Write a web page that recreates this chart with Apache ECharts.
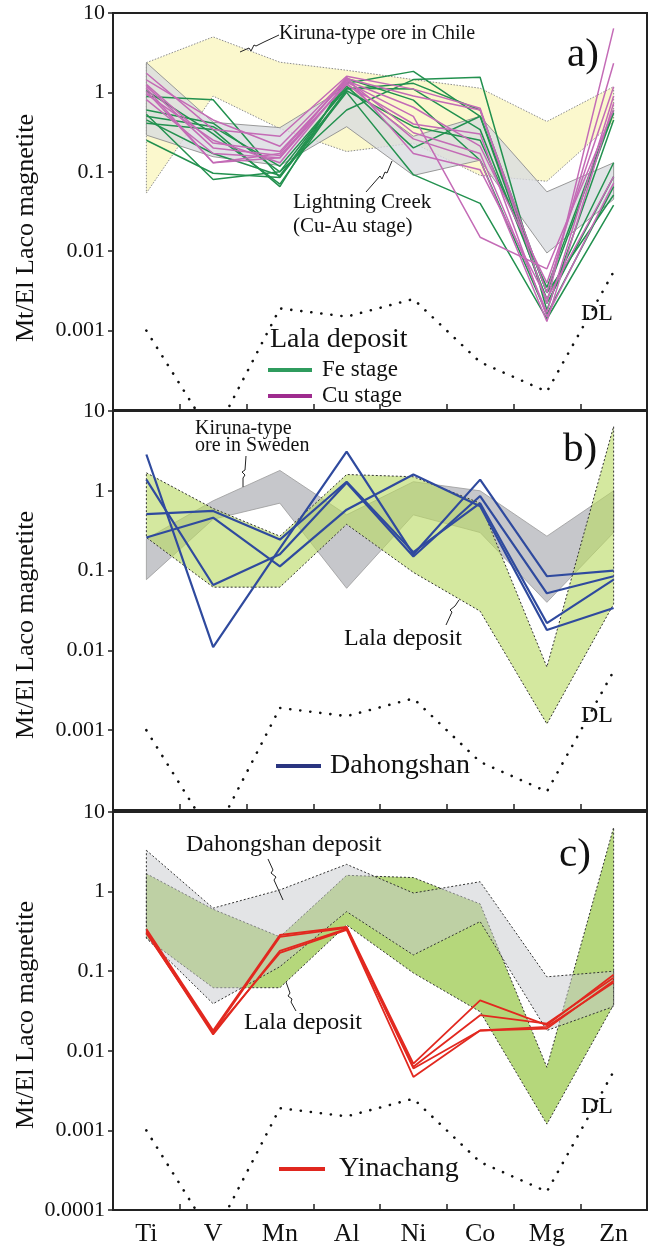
<!DOCTYPE html>
<html>
<head>
<meta charset="utf-8">
<script src="https://cdn.jsdelivr.net/npm/echarts@6/dist/echarts.min.js"></script>
<style>
html, body { margin: 0; padding: 0; background: #fff; }
#chart { width: 649px; height: 1247px; }
</style>
</head>
<body>
<div id="chart"></div>
<script>
const SERIF = '"Liberation Serif", "Times New Roman", serif'
const elements = ['Ti', 'V', 'Mn', 'Al', 'Ni', 'Co', 'Mg', 'Zn']

// detection limit, same in all three panels
const detectionLimit = [0.001, 0.000045, 0.0019, 0.0015, 0.0025, 0.0004, 0.00017, 0.0055]

// a) reference fields
const chileUpper = [2.37, 5.0, 2.4, 1.9, 1.45, 1.13, 0.43, 1.18]
const chileLower = [0.054, 0.9, 0.35, 0.18, 0.23, 0.09, 0.076, 0.43]
const lightningUpper = [2.37, 0.42, 0.36, 1.18, 0.28, 0.5, 0.056, 0.13]
const lightningLower = [0.29, 0.155, 0.12, 0.37, 0.09, 0.14, 0.0095, 0.045]

// a) Lala deposit, Fe stage samples
const feStage = [
  [0.89, 0.81, 0.085, 1.3, 1.84, 0.5, 0.003, 0.55],
  [0.6, 0.41, 0.1, 0.6, 1.45, 1.55, 0.0018, 0.45],
  [0.5, 0.37, 0.117, 1.13, 1.1, 0.34, 0.0025, 0.13],
  [0.25, 0.096, 0.085, 1.0, 0.092, 0.04, 0.0014, 0.038],
  [0.53, 0.08, 0.1, 1.2, 0.2, 0.5, 0.0022, 0.087],
  [0.41, 0.34, 0.065, 1.5, 0.8, 0.14, 0.0016, 0.065],
  [1.05, 0.3, 0.07, 1.1, 1.3, 0.6, 0.003, 0.051],
  [0.45, 0.17, 0.09, 1.05, 0.37, 0.25, 0.0035, 0.6]
]
// a) Lala deposit, Cu stage samples
const cuStage = [
  [1.74, 0.34, 0.28, 1.6, 1.1, 0.63, 0.0022, 6.4],
  [1.44, 0.45, 0.21, 1.5, 0.9, 0.6, 0.003, 2.33],
  [1.26, 0.23, 0.18, 1.4, 0.65, 0.21, 0.004, 1.18],
  [1.13, 0.13, 0.17, 1.45, 0.31, 0.17, 0.0017, 0.9],
  [1.03, 0.13, 0.15, 1.3, 0.26, 0.14, 0.0013, 0.73],
  [0.95, 0.25, 0.13, 1.35, 0.5, 0.015, 0.006, 0.6],
  [0.81, 0.17, 0.15, 1.55, 0.17, 0.106, 0.0025, 0.087],
  [1.2, 0.2, 0.16, 1.25, 0.4, 0.3, 0.0015, 0.072]
]

// b) fields
const swedenUpper = [0.25, 0.75, 1.8, 0.5, 1.3, 1.0, 0.27, 1.0]
const swedenLower = [0.077, 0.44, 0.7, 0.06, 0.5, 0.3, 0.04, 0.3]
const lalaUpper = [1.68, 0.6, 0.27, 1.6, 1.5, 0.7, 0.0062, 6.4]
const lalaLower = [0.26, 0.062, 0.062, 0.38, 0.095, 0.031, 0.0012, 0.038]

// b) Dahongshan samples
const dahongshan = [
  [2.85, 0.011, 0.19, 3.1, 0.16, 1.38, 0.085, 0.1],
  [1.38, 0.066, 0.16, 1.26, 0.15, 0.86, 0.052, 0.085],
  [0.51, 0.56, 0.245, 1.3, 0.17, 0.7, 0.022, 0.077],
  [0.26, 0.46, 0.113, 0.58, 1.6, 0.64, 0.018, 0.034]
]

// c) Dahongshan field
const dhsUpper = [3.3, 0.62, 1.05, 2.2, 0.96, 1.33, 0.085, 0.1]
const dhsLower = [0.26, 0.039, 0.114, 0.56, 0.16, 0.42, 0.018, 0.036]

// c) Yinachang samples
const yinachang = [
  [0.34, 0.018, 0.285, 0.36, 0.0069, 0.043, 0.021, 0.09],
  [0.32, 0.017, 0.27, 0.35, 0.0063, 0.028, 0.022, 0.083],
  [0.31, 0.016, 0.18, 0.34, 0.006, 0.018, 0.019, 0.076],
  [0.3, 0.017, 0.17, 0.33, 0.0047, 0.018, 0.02, 0.072]
]

const panels = [
  { top: 13, height: 397 },
  { top: 411, height: 399 },
  { top: 812, height: 398 }
]

function band(g, upper, lower, fill, stroke, dash, width, z) {
  return {
    type: 'custom',
    xAxisIndex: g,
    yAxisIndex: g,
    z: z,
    clip: true,
    silent: true,
    data: elements.map((e, i) => [i, lower[i], upper[i]]),
    renderItem: function (params, api) {
      if (params.dataIndex !== 0) return null
      const top = upper.map((v, i) => api.coord([i, v]))
      const bottom = lower.map((v, i) => api.coord([i, v])).reverse()
      return {
        type: 'polygon',
        shape: { points: top.concat(bottom) },
        style: { fill: fill, stroke: stroke, lineWidth: width, lineDash: dash }
      }
    }
  }
}

function lines(g, rows, color, width) {
  return rows.map(r => ({
    type: 'line',
    xAxisIndex: g,
    yAxisIndex: g,
    data: r,
    symbol: 'none',
    z: 3,
    silent: true,
    lineStyle: { color: color, width: width }
  }))
}

function dl(g) {
  return {
    type: 'line',
    xAxisIndex: g,
    yAxisIndex: g,
    data: detectionLimit,
    symbol: 'none',
    z: 4,
    silent: true,
    clip: true,
    lineStyle: { color: '#111', width: 2.6, type: [0.1, 10], cap: 'round' }
  }
}

function text(x, y, str, size, align, extra) {
  return Object.assign({
    type: 'text',
    x: x,
    y: y,
    z: 10,
    style: {
      text: str,
      font: size + 'px ' + SERIF,
      fill: '#111',
      textAlign: align || 'left',
      textVerticalAlign: 'middle'
    }
  }, extra || {})
}

function leader(points) {
  return {
    type: 'polyline',
    z: 10,
    shape: { points: points },
    style: { stroke: '#222', lineWidth: 1, fill: null }
  }
}

function legendLine(x1, x2, y, color) {
  return {
    type: 'line',
    z: 10,
    shape: { x1: x1, y1: y, x2: x2, y2: y },
    style: { stroke: color, lineWidth: 4 }
  }
}

const chart = echarts.init(document.getElementById('chart'), null, { renderer: 'canvas' })

const option = {
  animation: false,
  backgroundColor: '#fff',
  grid: panels.map(p => ({
    left: 113,
    right: 2,
    top: p.top,
    height: p.height,
    show: true,
    borderColor: '#222',
    borderWidth: 2,
    backgroundColor: 'transparent'
  })),
  xAxis: panels.map((p, i) => ({
    type: 'category',
    gridIndex: i,
    data: elements,
    boundaryGap: true,
    axisLine: { show: true, lineStyle: { color: '#222', width: 2 } },
    axisTick: { show: true, inside: true, length: 6, lineStyle: { color: '#222', width: 1.5 } },
    axisLabel: {
      show: i === 2,
      fontFamily: SERIF,
      fontSize: 26,
      color: '#111',
      margin: 11
    },
    splitLine: { show: false }
  })),
  yAxis: panels.map((p, i) => ({
    type: 'log',
    logBase: 10,
    gridIndex: i,
    min: 0.0001,
    max: 10,
    axisLine: { show: true, lineStyle: { color: '#222', width: 2 } },
    axisTick: { show: true, inside: false, length: 5, lineStyle: { color: '#222', width: 1.5 } },
    axisLabel: {
      fontFamily: SERIF,
      fontSize: 22,
      color: '#111',
      margin: 8,
      showMinLabel: i === 2,
      formatter: v => String(+(+v).toPrecision(2))
    },
    splitLine: { show: false },
    minorTick: { show: false }
  })),
  series: [
    band(0, chileUpper, chileLower, '#fbf8cd', '#8c8c8c', [1.5, 1.5], 1, 1),
    band(0, lightningUpper, lightningLower, 'rgba(218,220,224,0.8)', '#8f8f8f', null, 0.9, 1),
    ...lines(0, feStage, '#23914f', 1.5),
    ...lines(0, cuStage, '#c46bb6', 1.5),
    dl(0),

    band(1, swedenUpper, swedenLower, '#c6c7cb', '#9a9a9a', null, 0.8, 1),
    band(1, lalaUpper, lalaLower, 'rgba(185,218,100,0.62)', '#333', [2, 2], 1, 1),
    ...lines(1, dahongshan, '#2f4a9e', 2.2),
    dl(1),

    band(2, lalaUpper, lalaLower, '#b5d77b', '#333', [2, 2], 1, 1),
    band(2, dhsUpper, dhsLower, 'rgba(200,202,206,0.5)', '#333', [2, 2], 1, 1),
    ...lines(2, yinachang, '#e2281f', 1.8),
    dl(2)
  ],
  graphic: [
    // y axis names
    text(26, 228, 'Mt/El Laco magnetite', 26, 'center', { rotation: Math.PI / 2 }),
    text(26, 625, 'Mt/El Laco magnetite', 26, 'center', { rotation: Math.PI / 2 }),
    text(26, 1015, 'Mt/El Laco magnetite', 26, 'center', { rotation: Math.PI / 2 }),

    // panel a
    text(279, 34, 'Kiruna-type ore in Chile', 20),
    leader([[240, 52], [249, 48], [251, 51], [254, 45], [256, 46], [264, 42], [279, 35]]),
    text(583, 55, 'a)', 41, 'center'),
    text(293, 202, 'Lightning Creek', 21),
    text(293, 226, '(Cu-Au stage)', 21),
    leader([[366, 192], [380, 176], [382, 179], [385, 172], [387, 173], [392, 161]]),
    text(581, 314, 'DL', 24),
    text(270, 340, 'Lala deposit', 28),
    legendLine(268, 312, 370, '#2f9c5e'),
    text(322, 370, 'Fe stage', 23),
    legendLine(268, 312, 396, '#9e2b8e'),
    text(322, 396, 'Cu stage', 23),

    // panel b
    text(195, 429, 'Kiruna-type', 20),
    text(195, 446, 'ore in Sweden', 20),
    leader([[246, 456], [245, 470], [242, 472], [245, 475], [243, 478], [243, 487]]),
    text(580, 450, 'b)', 41, 'center'),
    text(344, 639, 'Lala deposit', 24),
    leader([[446, 625], [452, 612], [450, 610], [455, 606], [459, 600]]),
    text(581, 716, 'DL', 24),
    legendLine(276, 321, 766, '#2a3580'),
    text(330, 766, 'Dahongshan', 28),

    // panel c
    text(186, 845, 'Dahongshan deposit', 24),
    leader([[268, 859], [273, 870], [271, 873], [276, 877], [274, 880], [283, 900]]),
    text(575, 855, 'c)', 41, 'center'),
    text(244, 1023, 'Lala deposit', 24),
    leader([[286, 982], [290, 993], [288, 996], [292, 999], [291, 1002], [296, 1011]]),
    text(581, 1107, 'DL', 24),
    legendLine(279, 325, 1169, '#e0271f'),
    text(339, 1169, 'Yinachang', 28)
  ]
}

chart.setOption(option)
</script>
</body>
</html>
